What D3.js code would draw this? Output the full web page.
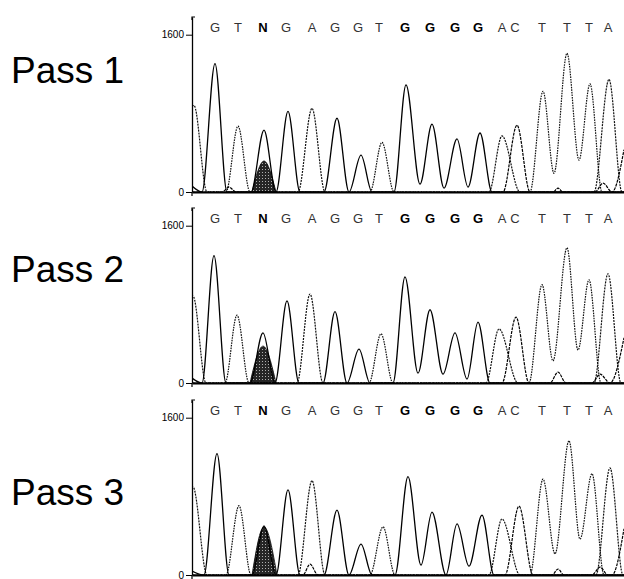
<!DOCTYPE html>
<html>
<head>
<meta charset="utf-8">
<script src="https://cdn.jsdelivr.net/npm/d3@7"></script>
<style>
  body { margin: 0; background: #fff; }
</style>
</head>
<body>
<div class="chromatogram"></div>
<script>
// base calls printed above every trace (scan position of each call)
var bases   = ["G","T","N","G","A","G","G","T","G","G","G","G","A","C","T","T","T","A"];
var basePos = [23,46,71,94,120,143,166,187,213,238,263,286,310,323,350,375,397,416];
var boldBases = [2,8,9,10,11];
var yTicks = [0, 1600];
var passNames = ["Pass 1", "Pass 2", "Pass 3"];

// trace knots, [scan, signal]
var pass1G = [[0,60],[10,0],[23,1306],[35,0],[59,0],[72,630],[84,0],[96,820],[108,0],[132,0],[145,750],[157,0],[169,375],[180,0],[202,0],[214,1090],[228,80],[240,690],[252,40],[265,540],[276,50],[288,600],[300,0],[432,0]];
var pass1A = [[0,870],[2,880],[15,0],[106,0],[120,850],[133,0],[297,0],[310,570],[328,0],[402,0],[417,1145],[430,0],[432,0]];
var pass1T = [[0,0],[34,0],[46,670],[58,0],[178,0],[190,505],[202,0],[338,0],[351,1025],[362,190],[375,1410],[387,325],[398,1100],[410,0],[432,0]];
var pass1C = [[0,0],[30,0],[37,50],[44,0],[311,0],[325,680],[338,0],[361,0],[366,40],[371,0],[403,0],[411,90],[420,0],[432,430]];
var pass1N = [[60,0],[72,315],[84,0]];

var pass2G = [[0,50],[10,0],[22,1295],[34,0],[58,0],[71,510],[83,0],[95,835],[107,0],[131,0],[143,725],[155,0],[167,345],[178,0],[201,0],[213,1080],[226,100],[238,745],[251,90],[263,510],[275,40],[286,620],[298,0],[432,0]];
var pass2A = [[0,870],[1,885],[14,0],[105,0],[118,905],[131,0],[294,0],[307,550],[326,0],[402,0],[416,1110],[429,0],[432,0]];
var pass2T = [[0,0],[33,0],[45,690],[57,0],[177,0],[189,500],[201,0],[337,0],[350,1000],[361,225],[375,1375],[386,335],[397,1050],[409,0],[432,0]];
var pass2C = [[0,0],[310,0],[324,670],[337,0],[358,0],[366,110],[374,0],[400,0],[408,90],[418,0],[432,460]];
var pass2N = [[58,0],[71,375],[84,0]];

var pass3G = [[0,40],[12,0],[25,1235],[37,0],[60,0],[72,500],[84,0],[96,865],[108,0],[132,0],[145,660],[157,0],[169,315],[180,0],[203,0],[216,1000],[229,100],[240,640],[254,0],[265,520],[277,90],[290,610],[302,0],[432,0]];
var pass3A = [[0,880],[1,895],[15,0],[106,0],[120,960],[133,0],[297,0],[310,570],[328,0],[404,0],[418,1090],[431,0],[432,0]];
var pass3T = [[0,0],[34,0],[47,705],[59,0],[178,0],[191,490],[203,0],[338,0],[351,975],[363,215],[377,1365],[388,365],[400,1030],[412,0],[432,0]];
var pass3C = [[0,0],[111,0],[118,110],[126,0],[313,0],[327,700],[341,0],[360,0],[366,60],[372,0],[400,0],[408,80],[416,0],[420,0],[432,470]];
var pass3N = [[60,0],[72,490],[85,0]];

var passes = [
  {G: pass1G, A: pass1A, T: pass1T, C: pass1C, N: pass1N},
  {G: pass2G, A: pass2A, T: pass2T, C: pass2C, N: pass2N},
  {G: pass3G, A: pass3A, T: pass3T, C: pass3C, N: pass3N}
];

var width = 624, height = 579;
var zeroY  = [192, 383, 575];   // baseline of each panel
var labelY = [83, 282, 505];

var svg = d3.select(".chromatogram")
            .append("svg")
            .attr("width", width)
            .attr("height", height);

var defs = svg.append("defs");
var pat = defs.append("pattern")
    .attr("id", "stipple")
    .attr("patternUnits", "userSpaceOnUse")
    .attr("width", 3)
    .attr("height", 3);
pat.append("rect").attr("width", 3).attr("height", 3).attr("fill", "#262626");
pat.append("rect").attr("x", 1).attr("y", 1).attr("width", 1).attr("height", 1).attr("fill", "#b0b0b0");

var x = d3.scaleLinear()
          .domain([0, 432])
          .range([192, 624]);

// line style per base (greyscale print of the four dye colours)
var styles = {
  G: {stroke: "#000", width: 1.3, dash: null},
  C: {stroke: "#000", width: 1.2, dash: "3,1"},
  A: {stroke: "#111", width: 1.2, dash: "2,1"},
  T: {stroke: "#111", width: 1.2, dash: "1.6,1"}
};

passes.forEach(function(p, i){

    var y = d3.scaleLinear()
              .domain([0, 1780])
              .range([zeroY[i], zeroY[i] - 175]);

    var g = svg.append("g").attr("class", "pass");

    defs.append("clipPath")
        .attr("id", "clip" + i)
        .append("rect")
        .attr("x", x(0))
        .attr("y", y(1780))
        .attr("width", x(432) - x(0))
        .attr("height", y(0) - y(1780));

    //Label
    g.append("text")
     .attr("x", 11)
     .attr("y", labelY[i])
     .style("font-family", "'Liberation Sans', Arial, sans-serif")
     .style("font-size", "37px")
     .attr("fill", "#000")
     .text(passNames[i]);

    //base calls
    g.selectAll(".base")
     .data(bases)
     .enter()
     .append("text")
     .attr("class", "base")
     .attr("x", function(d, k){ return x(basePos[k]); })
     .attr("y", y(0) - 160)
     .attr("text-anchor", "middle")
     .style("font-family", "'Liberation Sans', Arial, sans-serif")
     .style("font-size", "13px")
     .style("font-weight", function(d, k){ return boldBases.indexOf(k) >= 0 ? "bold" : "normal"; })
     .attr("fill", function(d, k){ return boldBases.indexOf(k) >= 0 ? "#000" : "#333"; })
     .text(function(d){ return d; });

    var plot = g.append("g").attr("clip-path", "url(#clip" + i + ")");

    // shaded N peak
    var area = d3.area()
                 .curve(d3.curveMonotoneX)
                 .x(function(d){ return x(d[0]); })
                 .y0(y(0))
                 .y1(function(d){ return y(d[1]); });
    plot.append("path")
        .attr("d", area(p.N))
        .attr("fill", "url(#stipple)")
        .attr("stroke", "#000")
        .attr("stroke-width", 0.8);

    //traces
    var line = d3.line()
                 .curve(d3.curveMonotoneX)
                 .x(function(d){ return x(d[0]); })
                 .y(function(d){ return y(d[1]); });

    ["T", "A", "C", "G"].forEach(function(b){
        plot.append("path")
            .attr("d", line(p[b]))
            .attr("fill", "none")
            .attr("stroke", styles[b].stroke)
            .attr("stroke-width", styles[b].width)
            .attr("stroke-dasharray", styles[b].dash);
    });

    // Y axis
    var yAxis = g.append("g")
     .attr("class", "y-axis")
     .attr("transform", "translate(" + x(0) + ",0)")
     .call(d3.axisLeft(y)
             .tickValues(yTicks)
             .tickFormat(d3.format("d"))
             .tickSize(6)
             .tickSizeOuter(0)
             .tickPadding(2));
    yAxis.selectAll("text")
         .style("font-family", "'Liberation Sans', Arial, sans-serif")
         .style("font-size", "10px")
         .attr("fill", "#000");
    yAxis.select(".domain").attr("stroke-width", 1.3);

    // little cap at the top and stub below zero
    g.append("path")
     .attr("d", "M" + x(0) + "," + (y(1780) + 3) + "V" + y(1780) + "H" + (x(0) + 3)
               + "M" + x(0) + "," + y(0) + "V" + (y(0) + 4))
     .attr("fill", "none")
     .attr("stroke", "#000")
     .attr("stroke-width", 1.2);

    // baseline
    g.append("g")
     .attr("transform", "translate(0," + y(0) + ")")
     .call(d3.axisBottom(x).tickValues([]).tickSizeOuter(0))
     .call(function(a){ a.select(".domain").attr("stroke-width", 1.8); });
});
</script>
</body>
</html>
